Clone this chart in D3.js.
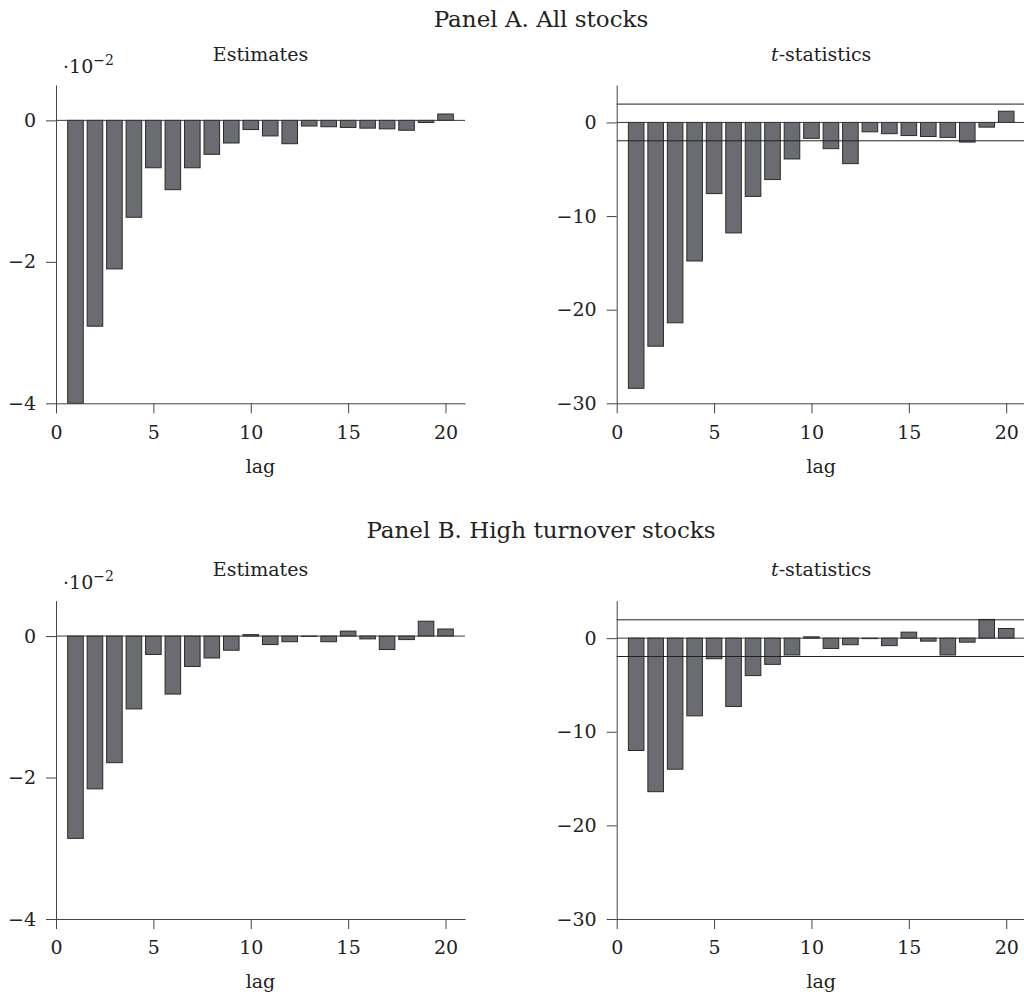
<!DOCTYPE html>
<html>
<head>
<meta charset="utf-8">
<script src="https://cdn.jsdelivr.net/npm/d3@7"></script>
<style>
    body { margin: 0; background: #fff; }
    svg text { font-family: "DejaVu Serif", serif; fill: #222; }
</style>
</head>
<body>
<div id="chart"></div>
<script>
// lags on the x axis
const lags = [1, 2, 3, 4, 5, 6, 7, 8, 9, 10, 11, 12, 13, 14, 15, 16, 17, 18, 19, 20];

// Panel A. All stocks (estimates in units of 10^-2)
const estimatesA = [-4.00, -2.91, -2.10, -1.37, -0.67, -0.98, -0.67, -0.48, -0.32, -0.13,
                    -0.22, -0.33, -0.08, -0.09, -0.10, -0.11, -0.12, -0.14, -0.03, 0.09];
const tstatsA = [-28.4, -23.9, -21.4, -14.8, -7.6, -11.8, -7.9, -6.1, -3.9, -1.7,
                 -2.8, -4.4, -1.0, -1.2, -1.4, -1.5, -1.6, -2.1, -0.5, 1.2];

// Panel B. High turnover stocks
const estimatesB = [-2.86, -2.16, -1.79, -1.03, -0.26, -0.82, -0.43, -0.31, -0.20, 0.02,
                    -0.12, -0.08, -0.005, -0.08, 0.07, -0.04, -0.19, -0.05, 0.21, 0.10];
const tstatsB = [-12.0, -16.4, -14.0, -8.3, -2.2, -7.3, -4.0, -2.8, -1.8, 0.14,
                 -1.1, -0.7, -0.05, -0.8, 0.64, -0.32, -1.8, -0.43, 2.0, 1.03];

// tick labels / domains
const lagTicks = [0, 5, 10, 15, 20];
const estTicks = [0, -2, -4];
const tTicks = [0, -10, -20, -30];
const critical = [1.96, -1.96];

const panelTitles = ['Panel A. All stocks', 'Panel B. High turnover stocks'];

// layout
const width = 1024, height = 997;
const plotW = 409;
const leftX = 56, rightX = 616.7;
const panelTop = 85, panelBottom = 403.3, panelOffset = 515.7;

const fmtTick = d => d === 0 ? '0' : (d < 0 ? '\u2212' : '') + Math.abs(d);

const svg = d3.select('#chart')
    .append('svg')
    .attr('width', width)
    .attr('height', height);

function drawPlot(parent, values, yDomain, yTicks, x0, top, bottom, isT) {
    const g = parent.append('g').attr('class', 'plot');
    const x = d3.scaleLinear().domain([0, 21]).range([x0, x0 + plotW]);
    const y = d3.scaleLinear().domain(yDomain).range([bottom, top]);
    const step = x(1) - x(0);

    // bars
    g.selectAll('.bar')
        .data(lags.map((l, i) => ({lag: l, value: values[i]})))
        .enter()
        .append('rect')
        .attr('class', 'bar')
        .attr('x', d => x(d.lag) - step * 0.4)
        .attr('width', step * 0.8)
        .attr('y', d => y(Math.max(0, d.value)))
        .attr('height', d => Math.abs(y(d.value) - y(0)))
        .attr('fill', '#6b6c71')
        .attr('stroke', '#2a2a2a')
        .attr('stroke-width', 1);

    // zero line (and +-1.96 bands for t-stats)
    const xEnd = isT ? width + 5 : x0 + plotW;
    g.append('line')
        .attr('x1', x0).attr('x2', xEnd)
        .attr('y1', y(0)).attr('y2', y(0))
        .attr('stroke', '#3a3a3a');
    if (isT) {
        g.selectAll('.crit')
            .data(critical)
            .enter()
            .append('line')
            .attr('class', 'crit')
            .attr('x1', x0).attr('x2', xEnd)
            .attr('y1', d => y(d)).attr('y2', d => y(d))
            .attr('stroke', '#222');
    }

    // axes
    const axisY = d3.axisLeft(y)
        .tickValues(yTicks)
        .tickFormat(fmtTick)
        .tickSize(10)
        .tickSizeOuter(0)
        .tickPadding(10);
    const axisX = d3.axisBottom(x)
        .tickValues(lagTicks)
        .tickFormat(fmtTick)
        .tickSize(10)
        .tickSizeOuter(0)
        .tickPadding(12);

    const ay = g.append('g')
        .attr('transform', `translate(${x0},0)`)
        .call(axisY);
    const ax = g.append('g')
        .attr('transform', `translate(0,${bottom})`)
        .call(axisX);
    if (isT) ax.select('.domain').attr('d', `M${x0},0.5H${width + 5}`);

    [ax, ay].forEach(a => {
        a.attr('font-family', null).attr('font-size', 19).attr('color', '#444');
        a.selectAll('text').attr('fill', '#222');
    });

    // x label
    g.append('text')
        .attr('x', x0 + plotW / 2)
        .attr('y', bottom + 69.4)
        .attr('text-anchor', 'middle')
        .attr('font-size', 19)
        .text('lag');
}

[[estimatesA, tstatsA], [estimatesB, tstatsB]].forEach(([est, ts], p) => {
    const off = p * panelOffset;
    const g = svg.append('g').attr('class', 'panel');
    const top = panelTop + off, bottom = panelBottom + off;

    g.append('text')
        .attr('x', 541)
        .attr('y', p === 0 ? 27 : 538)
        .attr('text-anchor', 'middle')
        .attr('font-size', 23)
        .text(panelTitles[p]);

    g.append('text')
        .attr('x', leftX + plotW / 2)
        .attr('y', 60.7 + off)
        .attr('text-anchor', 'middle')
        .attr('font-size', 19)
        .text('Estimates');

    const tt = g.append('text')
        .attr('x', rightX + plotW / 2)
        .attr('y', 60.7 + off)
        .attr('text-anchor', 'middle')
        .attr('font-size', 19);
    tt.append('tspan').attr('font-style', 'italic').text('t');
    tt.append('tspan').text('-statistics');

    // scale factor label
    const sf = g.append('text')
        .attr('x', 63)
        .attr('y', 73 + off)
        .attr('font-size', 19);
    sf.append('tspan').text('·10');
    sf.append('tspan').attr('font-size', 14).attr('dy', -8).text('\u22122');

    drawPlot(g, est, [-4, 0.5], estTicks, leftX, top, bottom, false);
    drawPlot(g, ts, [-30, 4], tTicks, rightX, top, bottom, true);
});
</script>
</body>
</html>
